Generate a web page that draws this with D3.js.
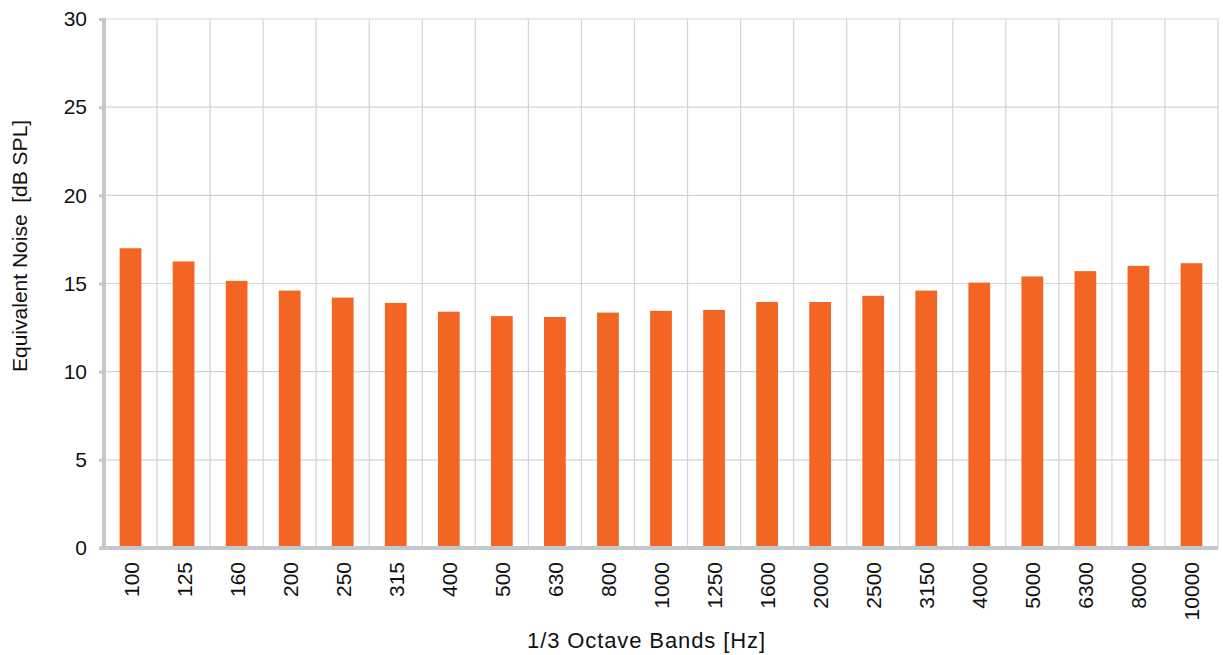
<!DOCTYPE html>
<meta charset="utf-8">
<script src="https://d3js.org/d3.v7.min.js"></script>
<style>
body { margin: 0; background: #fff; }
text { font-family: "Liberation Sans", Arial, sans-serif; fill: #111; }
</style>
<div id="main"></div>
<script>
// 1/3 octave band centre frequencies
const bands = ["100", "125", "160", "200", "250", "315", "400", "500", "630", "800", "1000",
  "1250", "1600", "2000", "2500", "3150", "4000", "5000", "6300", "8000", "10000"];
// equivalent noise, dB SPL
const noise = [17.0, 16.25, 15.15, 14.6, 14.2, 13.9, 13.4, 13.15, 13.1, 13.35, 13.45,
  13.5, 13.95, 13.95, 14.3, 14.6, 15.05, 15.4, 15.7, 16.0, 16.15];
const yTicks = [0, 5, 10, 15, 20, 25, 30];

const W = 1223, H = 655;
const margin = {top: 19, right: 5, bottom: 107, left: 104};
const width = W - margin.left - margin.right,
    height = H - margin.top - margin.bottom;

const svg = d3.select("#main").append("svg")
    .attr("width", W)
    .attr("height", H);
const g = svg.append("g")
    .attr("transform", "translate(" + margin.left + "," + margin.top + ")");

const x = d3.scaleBand().domain(bands).range([0, width]).paddingInner(0).paddingOuter(0);
const y = d3.scaleLinear().domain([0, 30]).range([height, 0]);

// horizontal gridlines
g.append("g").selectAll("line")
  .data(yTicks.filter(d => d > 0))
  .enter().append("line")
    .attr("x1", 0).attr("x2", width)
    .attr("y1", d => y(d)).attr("y2", d => y(d))
    .attr("stroke", "#d4d4d4").attr("stroke-width", 1.2);

// vertical gridlines at band edges
g.append("g").selectAll("line")
  .data(bands)
  .enter().append("line")
    .attr("x1", d => x(d) + x.step()).attr("x2", d => x(d) + x.step())
    .attr("y1", 0).attr("y2", height)
    .attr("stroke", "#d4d4d4").attr("stroke-width", 1.2);

// bars
const bw = x.bandwidth() * 0.41;
g.append("g").selectAll("rect")
  .data(noise)
  .enter().append("rect")
    .attr("x", (d, i) => x(bands[i]) + (x.bandwidth() - bw) / 2)
    .attr("width", bw)
    .attr("y", d => y(d))
    .attr("height", d => height - y(d))
    .attr("fill", "#f26522");

// y axis
const yAxis = g.append("g")
    .call(d3.axisLeft(y).tickValues(yTicks).tickSize(5).tickPadding(12).tickFormat(d3.format("d")));
yAxis.select(".domain").remove();
yAxis.selectAll(".tick line").attr("stroke", "#c4c8cc").attr("stroke-width", 3);
yAxis.selectAll("text").attr("font-size", 21).attr("fill", "#111");
g.append("line")
    .attr("x1", 0).attr("x2", 0).attr("y1", -1).attr("y2", height + 2)
    .attr("stroke", "#c4c8cc").attr("stroke-width", 4);

// x axis
g.append("line")
    .attr("x1", -4).attr("x2", width).attr("y1", height).attr("y2", height)
    .attr("stroke", "#c4c8cc").attr("stroke-width", 4);
const xAxis = g.append("g")
    .attr("transform", "translate(0," + height + ")")
    .call(d3.axisBottom(x).tickSize(0).tickPadding(0));
xAxis.select(".domain").remove();
xAxis.selectAll("text")
    .attr("font-size", 21)
    .attr("fill", "#111")
    .attr("text-anchor", "end")
    .attr("dy", null)
    .attr("transform", "translate(8,14) rotate(-90)");

// axis titles
svg.append("text")
    .attr("x", 527)
    .attr("y", 648)
    .attr("text-anchor", "start")
    .attr("font-size", 22)
    .attr("textLength", 238)
    .text("1/3 Octave Bands [Hz]");
svg.append("text")
    .attr("transform", "translate(27,372) rotate(-90)")
    .attr("text-anchor", "start")
    .attr("font-size", 21)
    .style("white-space", "pre")
    .text("Equivalent Noise  [dB SPL]");
</script>
